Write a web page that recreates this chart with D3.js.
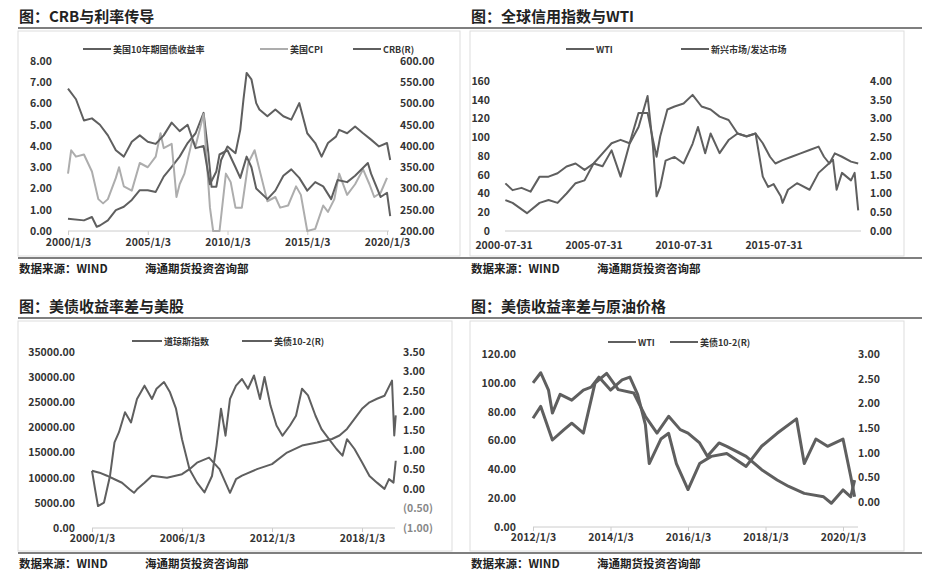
<!DOCTYPE html>
<html><head><meta charset="utf-8">
<script src="https://cdn.jsdelivr.net/npm/d3@7/dist/d3.min.js"></script>
<style>body{margin:0;background:#fff}svg{display:block}text{font-family:"Noto Sans CJK SC",sans-serif}</style>
</head><body><svg id="c" width="942" height="576"></svg>
<script>
// ---- Panel 1 data ----
const p1Yield=[[2000,6.7],[2000.5,6.2],[2001,5.2],[2001.5,5.3],[2002,5.0],[2002.5,4.5],[2003,3.8],[2003.5,3.5],[2004,4.2],[2004.5,4.5],[2005,4.2],[2005.5,4.1],[2006,4.5],[2006.5,5.1],[2007,4.7],[2007.5,5.0],[2008,3.9],[2008.5,4.0],[2008.9,2.2],[2009.3,2.8],[2009.5,3.6],[2010,3.8],[2010.5,3.0],[2010.8,2.5],[2011.2,3.5],[2011.5,3.0],[2011.8,2.0],[2012.5,1.5],[2013,1.9],[2013.5,2.6],[2014,2.9],[2014.5,2.5],[2015,1.9],[2015.5,2.3],[2016,2.1],[2016.5,1.5],[2016.9,2.4],[2017.5,2.3],[2018,2.6],[2018.8,3.2],[2019,2.7],[2019.6,1.6],[2020,1.8],[2020.2,0.7]];
const p1CPI=[[2000,2.7],[2000.2,3.8],[2000.5,3.5],[2001,3.6],[2001.5,2.8],[2001.9,1.5],[2002.2,1.3],[2002.5,1.5],[2003,2.5],[2003.2,3.0],[2003.5,2.1],[2004,1.9],[2004.5,3.2],[2005,3.0],[2005.5,3.5],[2005.8,4.6],[2006,3.9],[2006.5,4.1],[2006.8,1.6],[2007,2.2],[2007.3,2.7],[2007.8,4.3],[2008,4.0],[2008.5,5.5],[2008.9,1.1],[2009.1,0.0],[2009.5,0.0],[2009.9,2.7],[2010.2,2.3],[2010.5,1.1],[2010.9,1.1],[2011.3,3.2],[2011.7,3.8],[2012,2.9],[2012.5,1.4],[2013,1.6],[2013.3,1.1],[2013.8,1.2],[2014.3,2.1],[2014.6,1.7],[2015,0.0],[2015.5,0.1],[2016,1.2],[2016.3,0.9],[2016.7,1.5],[2017,2.7],[2017.5,1.7],[2018,2.2],[2018.5,2.9],[2018.9,2.2],[2019.2,1.6],[2019.6,1.8],[2020,2.5]];
const p1CRB=[[2000,229],[2001,225],[2001.5,233],[2001.8,210],[2002,213],[2002.5,225],[2003,249],[2003.5,257],[2004,273],[2004.5,296],[2005,296],[2005.5,292],[2006,328],[2006.5,351],[2007,375],[2007.5,407],[2008,430],[2008.5,478],[2008.8,383],[2009,304],[2009.3,304],[2009.6,367],[2010,399],[2010.5,383],[2010.8,438],[2011,509],[2011.2,572],[2011.5,557],[2011.8,501],[2012,486],[2012.5,470],[2013,486],[2013.5,470],[2014,462],[2014.5,501],[2015,430],[2015.5,407],[2015.9,375],[2016.3,407],[2016.8,422],[2017,438],[2017.5,430],[2018,446],[2018.5,430],[2019,415],[2019.5,399],[2020,407],[2020.2,367]];
const p1Ticks=["2000/1/3","2005/1/3","2010/1/3","2015/1/3","2020/1/3"];
// ---- Panel 2 data ----
const p2WTI=[[2000.6,33],[2001,30],[2001.8,19],[2002.5,30],[2003,33],[2003.5,30],[2004,40],[2004.5,51],[2005,54],[2005.5,72],[2006,69],[2006.5,86],[2007,58],[2007.5,93],[2008,111],[2008.5,144],[2008.8,90],[2009,37],[2009.2,47],[2009.5,75],[2010,79],[2010.5,72],[2011,93],[2011.3,111],[2011.7,83],[2012,104],[2012.5,83],[2013,97],[2013.5,104],[2014,101],[2014.5,104],[2014.9,58],[2015.2,47],[2015.5,50],[2015.9,37],[2016,30],[2016.3,44],[2016.8,51],[2017.5,44],[2018,62],[2018.8,76],[2019,44],[2019.3,62],[2019.8,54],[2020,62],[2020.2,22]];
const p2Ratio=[[2000.6,1.27],[2001,1.09],[2001.5,1.15],[2002,1.05],[2002.5,1.45],[2003,1.45],[2003.5,1.54],[2004,1.72],[2004.5,1.8],[2005,1.63],[2005.5,1.8],[2006,2.07],[2006.5,2.34],[2007,2.43],[2007.5,2.34],[2008,3.15],[2008.5,3.15],[2008.8,2.43],[2009,1.98],[2009.2,2.52],[2009.6,3.24],[2010,3.32],[2010.5,3.4],[2011,3.63],[2011.5,3.32],[2012,3.24],[2012.5,3.05],[2013,2.96],[2013.5,2.6],[2014,2.52],[2014.5,2.6],[2014.9,2.34],[2015.3,1.98],[2015.6,1.8],[2016,1.89],[2016.5,1.98],[2017,2.07],[2017.5,2.16],[2018,2.25],[2018.3,1.98],[2018.6,1.8],[2018.9,2.07],[2019.3,1.98],[2019.8,1.85],[2020.2,1.8]];
const p2Ticks=["2000-07-31","2005-07-31","2010-07-31","2015-07-31"];
// ---- Panel 3 data ----
const p3Dow=[[2000,11400],[2000.5,11000],[2001,10400],[2001.5,9700],[2002,9000],[2002.5,7700],[2002.8,7000],[2003,7700],[2003.5,9000],[2004,10400],[2005,10000],[2006,10700],[2006.5,11700],[2007,13000],[2007.8,14000],[2008.5,11700],[2009.2,7000],[2009.6,9700],[2010,10400],[2011,11700],[2012,12700],[2013,15000],[2014,16400],[2015,17000],[2016,17700],[2016.5,18400],[2017,19700],[2018,23700],[2018.5,25000],[2019,25700],[2019.5,26300],[2020,29300],[2020.15,18400],[2020.25,22400]];
const p3Spread=[[2000,0.46],[2000.2,0],[2000.4,-0.44],[2000.8,-0.35],[2001.2,0.33],[2001.5,1.19],[2001.8,1.45],[2002.2,1.96],[2002.6,1.7],[2003,2.3],[2003.5,2.64],[2004,2.3],[2004.3,2.56],[2004.8,2.73],[2005.2,2.47],[2005.6,2.05],[2006,1.27],[2006.5,0.5],[2007,0.16],[2007.5,-0.09],[2008,0.33],[2008.3,1.1],[2008.6,2.05],[2008.9,1.36],[2009.2,2.3],[2009.6,2.64],[2010,2.81],[2010.4,2.56],[2010.8,2.9],[2011.2,2.3],[2011.5,2.86],[2011.9,2.13],[2012.3,1.62],[2012.7,1.36],[2013.2,1.62],[2013.6,1.87],[2014,2.56],[2014.4,2.39],[2014.9,1.87],[2015.3,1.53],[2015.8,1.27],[2016.3,1.02],[2016.7,0.85],[2017,1.27],[2017.5,1.02],[2018,0.68],[2018.5,0.33],[2019,0.16],[2019.5,0],[2019.8,0.25],[2020.1,0.16],[2020.25,0.72]];
const p3Ticks=["2000/1/3","2006/1/3","2012/1/3","2018/1/3"];
// ---- Panel 4 data ----
const p4WTI=[[2012,100],[2012.2,107],[2012.4,95],[2012.5,79],[2012.7,92],[2013,88],[2013.3,95],[2013.5,97],[2013.7,104],[2014,95],[2014.3,102],[2014.5,104],[2014.7,92],[2014.9,71],[2015,44],[2015.3,61],[2015.5,65],[2015.7,44],[2016,26],[2016.3,44],[2016.6,49],[2017,51],[2017.5,42],[2017.9,56],[2018.3,65],[2018.8,75],[2019,44],[2019.3,61],[2019.6,56],[2020,61],[2020.2,35],[2020.3,21]];
const p4Spread=[[2012,1.70],[2012.2,1.94],[2012.5,1.26],[2012.8,1.47],[2013,1.6],[2013.3,1.4],[2013.6,2.41],[2013.9,2.61],[2014.2,2.28],[2014.6,2.21],[2014.9,1.74],[2015.2,1.4],[2015.5,1.74],[2015.8,1.47],[2016,1.4],[2016.3,1.2],[2016.5,0.93],[2016.8,1.2],[2017,1.13],[2017.5,0.93],[2017.9,0.66],[2018.3,0.45],[2018.6,0.32],[2019,0.18],[2019.5,0.11],[2019.7,-0.02],[2020,0.25],[2020.2,0.11],[2020.3,0.45]];
const p4Ticks=["2012/1/3","2014/1/3","2016/1/3","2018/1/3","2020/1/3"];

const svg=d3.select("#c");
const DARK="#5f5f5f", LIGHT="#adadad";
function tickYear(s){const p=s.split(/[-\/]/);return +p[0]+(+p[1]-1)/12;}

function panel(o){
  const g=svg.append("g");
  g.append("text").attr("x",o.px+1).attr("y",o.ty).attr("font-size",15).attr("font-weight",700).attr("fill","#222").text(o.title);
  g.append("line").attr("x1",o.px).attr("x2",o.px+o.pw).attr("y1",o.ty+6).attr("y2",o.ty+6).attr("stroke","#555").attr("stroke-width",1.5);
  g.append("rect").attr("x",o.bx).attr("y",o.ty+9).attr("width",o.bw).attr("height",o.by-o.ty-11).attr("fill","none").attr("stroke","#ddd");
  g.append("line").attr("x1",o.px).attr("x2",o.px+o.pw).attr("y1",o.by).attr("y2",o.by).attr("stroke","#555").attr("stroke-width",1.5);
  g.append("text").attr("x",o.px+1).attr("y",o.by+15).attr("font-size",11.5).attr("font-weight",700).attr("fill","#222").text("数据来源：WIND");
  g.append("text").attr("x",o.px+o.srcX).attr("y",o.by+15).attr("font-size",11.5).attr("font-weight",700).attr("fill","#222").text("海通期货投资咨询部");
  const x=d3.scaleLinear().domain(o.xd).range(o.xr);
  const yl=d3.scaleLinear().domain(o.yld).range([o.yb,o.yt]);
  const yr=d3.scaleLinear().domain(o.yrd).range([o.yb,o.yt]);
  const xa=d3.axisBottom(x).tickValues(o.ticks.map(tickYear)).tickFormat((d,i)=>o.ticks[i]).tickSize(o.tickLen).tickSizeOuter(0).tickPadding(o.pad-o.tickLen);
  const gx=g.append("g").attr("transform",`translate(0,${o.yb})`).call(xa);
  gx.select(".domain").attr("stroke","#ccc").attr("d",`M${o.xr[0]},0H${o.axEnd}`);
  gx.selectAll(".tick line").attr("stroke","#ccc");
  gx.selectAll("text").attr("font-size",10.5).attr("font-weight",700).attr("fill","#333").attr("font-family","'Noto Sans CJK SC'");
  const la=d3.axisLeft(yl).tickValues(o.ylt).tickFormat(o.lf).tickSize(0).tickPadding(0);
  const gl=g.append("g").attr("transform",`translate(${o.lx},0)`).call(la);
  gl.select(".domain").remove();
  gl.selectAll("text").attr("font-size",10.5).attr("font-weight",700).attr("fill","#333").attr("font-family","'Noto Sans CJK SC'");
  const ra=d3.axisRight(yr).tickValues(o.yrt).tickFormat(o.rf).tickSize(0).tickPadding(0);
  const gr=g.append("g").attr("transform",`translate(${o.rx},0)`).call(ra);
  gr.select(".domain").remove();
  gr.selectAll("text").attr("font-size",10.5).attr("font-weight",700).attr("fill",d=>d<0?"#888":"#333").attr("font-family","'Noto Sans CJK SC'");
  o.series.forEach(s=>{
    const yy=s.right?yr:yl;
    g.append("path").datum(s.data).attr("fill","none").attr("stroke",s.color).attr("stroke-width",s.w).attr("stroke-linejoin","round")
     .attr("d",d3.line().x(d=>x(d[0])).y(d=>yy(d[1])));
  });
  o.series.forEach(s=>{
    g.append("line").attr("x1",s.lx).attr("x2",s.lx+s.ll).attr("y1",o.ly).attr("y2",o.ly).attr("stroke",s.color).attr("stroke-width",2);
    g.append("text").attr("x",s.lx+s.ll+2).attr("y",o.ly+3.5).attr("font-size",9).attr("font-weight",700).attr("fill","#333").text(s.name);
  });
}
const f2=d3.format(".2f");
const neg=d=>d<0?"("+f2(-d)+")":f2(d);
panel({px:18,pw:452,ty:22,by:258,bx:18,bw:442,srcX:127,title:"图：CRB与利率传导",
  xd:[2000,2020],xr:[68,387],axEnd:389,tickLen:4,pad:8,ticks:p1Ticks,yb:231,yt:61,
  yld:[0,8],ylt:d3.range(0,9),lf:f2,lx:52,yrd:[200,600],yrt:d3.range(200,601,50),rf:f2,rx:400,ly:49,
  series:[{data:p1CRB,right:true,color:DARK,w:2,name:"CRB(R)",lx:353,ll:28},
          {data:p1CPI,color:LIGHT,w:2,name:"美国CPI",lx:260,ll:28},
          {data:p1Yield,color:DARK,w:2,name:"美国10年期国债收益率",lx:83,ll:28}]});
panel({px:470,pw:452,ty:22,by:258,bx:470,bw:434,srcX:127,title:"图：全球信用指数与WTI",
  xd:[2000.58,2020.3],xr:[505,860],axEnd:861,tickLen:0,pad:11,ticks:p2Ticks,yb:231,yt:81,
  yld:[0,160],ylt:d3.range(0,161,20),lf:d3.format("d"),lx:490,yrd:[0,4],yrt:d3.range(0,4.01,0.5),rf:f2,rx:870,ly:49,
  series:[{data:p2WTI,color:DARK,w:2,name:"WTI",lx:566,ll:28},
          {data:p2Ratio,right:true,color:DARK,w:2,name:"新兴市场/发达市场",lx:681,ll:28}]});
panel({px:18,pw:452,ty:312,by:553,bx:18,bw:434,srcX:127,title:"图：美债收益率差与美股",
  xd:[2000,2018],xr:[92,362],axEnd:395,tickLen:4,pad:7,ticks:p3Ticks,yb:528,yt:352,
  yld:[0,35000],ylt:d3.range(0,35001,5000),lf:f2,lx:75,yrd:[-1,3.5],yrt:d3.range(-1,3.51,0.5),rf:neg,rx:403,ly:341,
  series:[{data:p3Dow,color:DARK,w:2,name:"道琼斯指数",lx:132,ll:30},
          {data:p3Spread,right:true,color:DARK,w:2,name:"美债10-2(R)",lx:242,ll:30}]});
panel({px:470,pw:452,ty:312,by:553,bx:470,bw:434,srcX:127,title:"图：美债收益率差与原油价格",
  xd:[2012,2020],xr:[533,843],axEnd:858,tickLen:4,pad:7,ticks:p4Ticks,yb:527,yt:354,
  yld:[0,120],ylt:d3.range(0,121,20),lf:f2,lx:516,yrd:[-0.5,3],yrt:d3.range(0,3.01,0.5),rf:f2,rx:858,ly:342,
  series:[{data:p4WTI,color:DARK,w:3,name:"WTI",lx:608,ll:28},
          {data:p4Spread,right:true,color:DARK,w:3,name:"美债10-2(R)",lx:670,ll:28}]});
</script></body></html>
